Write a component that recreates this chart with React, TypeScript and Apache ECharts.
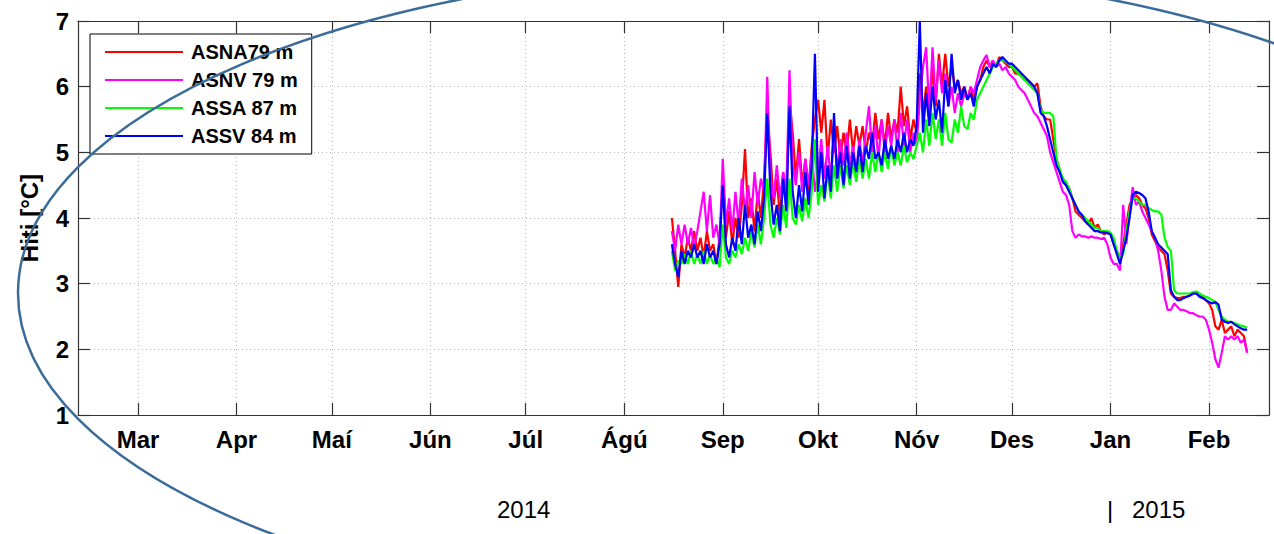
import React, { useEffect, useRef } from "react";
import * as echarts from "echarts";

// ---- Data (daily samples starting 16 Aug 2014) ----
const START = { y: 2014, m: 7, d: 16 };

const ASNA79 = [
  4.0, 3.5, 2.95, 3.6, 3.4, 3.7, 3.5, 3.8, 3.5, 3.7,
  3.4, 3.8, 3.5, 3.6, 3.3, 3.7, 4.5, 3.7, 4.1, 3.6,
  4.0, 3.7, 4.2, 5.05, 4.0, 4.3, 3.8, 4.4, 4.0, 4.6,
  5.6, 5.0, 4.2, 4.6, 4.0, 4.7, 4.3, 5.8, 5.3, 4.6,
  5.2, 4.5, 4.9, 4.4, 5.1, 5.5, 5.8, 5.3, 5.8, 4.9,
  5.5, 5.0, 5.4, 4.9, 5.3, 5.0, 5.5, 5.0, 5.4, 5.1,
  5.4, 5.0, 5.3, 5.1, 5.6, 5.2, 5.5, 5.1, 5.6, 5.2,
  5.5, 5.3, 6.0, 5.4, 5.7, 5.2, 5.5, 5.3, 6.2, 5.6,
  6.0, 5.5, 6.3, 5.7, 6.5, 6.0, 6.5, 6.0, 6.3, 6.0,
  6.1, 5.9, 6.0, 5.8, 6.0, 5.8, 6.0, 6.1, 6.3, 6.4,
  6.3, 6.4, 6.3, 6.45, 6.4, 6.35, 6.3, 6.3, 6.2, 6.2,
  6.15, 6.1, 6.1, 6.05, 6.0, 6.05, 5.7, 5.55, 5.5, 5.5,
  5.2, 4.9, 4.7, 4.6, 4.5, 4.45, 4.3, 4.1, 4.05, 4.0,
  3.95, 3.9, 4.0, 3.85, 3.9, 3.8, 3.75, 3.78, 3.75, 3.6,
  3.5, 3.4, 3.6, 3.9, 4.2, 4.3, 4.35, 4.3, 4.2, 4.15,
  4.0, 3.75, 3.65, 3.55, 3.5, 3.45, 3.2, 2.85, 2.8, 2.78,
  2.78, 2.8, 2.8, 2.82, 2.85, 2.85, 2.82, 2.8, 2.75, 2.7,
  2.6, 2.35, 2.3, 2.45, 2.25, 2.3, 2.35, 2.2, 2.3, 2.25,
  2.2, 1.95,
];

const ASNV79 = [
  3.8, 3.5, 3.9, 3.6, 3.9, 3.6, 3.85, 3.55, 3.8, 4.1,
  4.4, 3.8, 4.35, 3.7, 3.9, 3.6, 4.9, 3.9, 4.3, 3.8,
  4.4, 3.9, 4.6, 4.1, 4.5, 4.0, 4.7, 4.2, 4.6, 4.4,
  6.15, 4.6, 4.3, 4.8, 4.3, 4.7, 4.4, 6.25, 4.8, 4.5,
  5.0, 4.4, 4.9, 4.5, 5.0, 4.4, 4.7, 5.2, 4.6, 5.1,
  4.6, 5.3, 4.7, 5.2, 4.8, 5.3, 4.8, 5.1, 4.7, 5.2,
  4.8, 5.3, 5.7, 5.0, 5.4, 4.9, 5.5, 5.0, 5.4, 5.1,
  5.5, 5.0, 5.6, 5.1, 5.5, 5.0, 5.3, 5.1, 5.8, 6.3,
  6.6, 5.6, 6.6, 5.8, 6.4, 5.9, 6.2, 5.7, 6.0, 5.6,
  5.9, 5.7, 5.9, 5.8, 6.0, 5.9, 6.1, 6.3, 6.4, 6.48,
  6.3, 6.4, 6.3, 6.35, 6.25, 6.3, 6.2, 6.15, 6.1, 6.0,
  5.95, 5.9, 5.8, 5.7, 5.6, 5.55, 5.45, 5.35, 5.25, 5.0,
  4.85, 4.7, 4.55, 4.4, 4.35, 4.2, 3.8, 3.7, 3.75, 3.72,
  3.72, 3.7, 3.72, 3.7, 3.7, 3.68, 3.7, 3.6, 3.4, 3.3,
  3.3, 3.2, 4.2, 3.6, 4.1, 4.47, 4.2, 4.25, 4.1, 4.0,
  3.9, 3.8, 3.7, 3.5, 3.2, 2.8, 2.6, 2.6, 2.7, 2.65,
  2.6, 2.6, 2.58, 2.55, 2.55, 2.52, 2.5, 2.5, 2.45, 2.3,
  2.1, 1.85, 1.72, 1.95, 2.2, 2.15, 2.2, 2.15, 2.2, 2.1,
  2.15, 1.95,
];

const ASSA87 = [
  3.5, 3.2, 3.35, 3.3, 3.45, 3.3, 3.5, 3.3, 3.45, 3.3,
  3.5, 3.3, 3.45, 3.3, 3.4, 3.25, 3.9, 3.4, 3.3, 3.5,
  3.4, 3.6, 3.45, 3.7, 3.5, 3.8, 3.55, 3.9, 3.6, 4.0,
  4.6, 3.9, 3.7, 4.0, 3.75, 4.2, 3.85, 4.6, 4.0, 3.9,
  4.2, 3.95, 4.3, 4.0, 4.4, 5.2, 4.2, 4.5, 4.25, 4.7,
  4.3, 4.8, 4.4, 4.8, 4.45, 4.8, 4.5, 4.85, 4.55, 4.9,
  4.6, 4.9, 4.6, 5.0, 4.7, 5.0, 4.7, 5.0, 4.75, 5.1,
  4.8, 5.0, 4.8, 5.1, 4.85, 5.0, 4.9, 5.1, 5.3, 5.0,
  5.5, 5.1, 5.6, 5.2, 5.5, 5.1, 5.6, 5.2, 5.15, 5.5,
  5.3, 5.7, 5.4, 5.35, 5.6, 5.5, 5.8, 5.9, 6.0, 6.1,
  6.2, 6.3, 6.35, 6.4, 6.4, 6.38, 6.35, 6.3, 6.25, 6.2,
  6.15, 6.1, 6.05, 6.0, 5.95, 5.9, 5.65, 5.6, 5.6, 5.6,
  5.55, 4.9, 4.75, 4.6, 4.55, 4.45, 4.3, 4.2, 4.1, 4.05,
  4.0, 3.95, 3.9, 3.85, 3.85, 3.8, 3.8, 3.8, 3.78, 3.7,
  3.5, 3.4, 3.45, 3.8, 4.1, 4.3, 4.3, 4.25, 4.2, 4.2,
  4.15, 4.12, 4.1, 4.1, 4.05, 3.7, 3.56, 3.5, 2.9, 2.85,
  2.85, 2.85, 2.85, 2.85, 2.87, 2.88, 2.85, 2.82, 2.8, 2.78,
  2.75, 2.72, 2.6, 2.5, 2.45, 2.42, 2.42, 2.4, 2.38, 2.36,
  2.35, 2.33,
];

const ASSV84 = [
  3.6, 3.3, 3.1, 3.5, 3.3, 3.5, 3.4, 3.6, 3.4, 3.5,
  3.3, 3.6, 3.4, 3.5, 3.3, 3.6, 4.5, 3.6, 3.4, 3.7,
  3.5, 4.0, 3.6, 4.2, 3.7, 3.9, 3.6, 4.1, 3.8, 4.3,
  5.6, 4.4, 3.9, 4.2, 3.8, 4.6, 4.1, 5.7, 4.4, 4.0,
  4.5, 4.1, 4.7, 4.2, 4.8, 6.5, 4.4, 5.0, 4.3, 4.8,
  4.4, 5.6, 4.6, 5.0, 4.5, 5.1, 4.6, 5.0, 4.7, 5.1,
  4.7, 5.1, 4.9, 5.3, 4.9, 5.0, 4.8, 5.2, 4.9, 5.1,
  4.9, 5.2, 5.0, 5.3, 5.0, 5.2, 5.1, 5.4, 7.0, 5.3,
  5.9, 5.4, 6.0, 5.5, 5.8, 5.3, 6.1, 5.7, 6.5, 5.9,
  6.1, 5.8, 6.0, 5.8, 5.9, 5.7, 6.0, 6.1, 6.2, 6.3,
  6.2, 6.35, 6.3, 6.4, 6.45, 6.4, 6.35, 6.35, 6.3, 6.25,
  6.2, 6.15, 6.1, 6.05, 6.0, 5.9, 5.6, 5.55, 5.4, 5.2,
  5.0, 4.8, 4.7, 4.55, 4.5, 4.4, 4.3, 4.2, 4.1, 4.05,
  3.95, 3.9, 3.85, 3.8, 3.8, 3.78, 3.78, 3.77, 3.75, 3.6,
  3.45, 3.3, 3.5, 3.7, 4.0, 4.35, 4.4, 4.38, 4.35, 4.3,
  4.1, 3.8, 3.7, 3.6, 3.55, 3.5, 3.45, 2.9, 2.8, 2.75,
  2.75, 2.78, 2.8, 2.82, 2.85, 2.85, 2.8, 2.78, 2.75, 2.72,
  2.7, 2.72, 2.68, 2.45, 2.42, 2.4, 2.42, 2.38, 2.35, 2.32,
  2.3, 2.3,
];

const SERIES_NAMES = ["ASNA79 m", "ASNV 79 m", "ASSA 87 m", "ASSV 84 m"];
const SERIES_COLORS = ["#ff0000", "#ff00ff", "#00ff00", "#0000ff"];

// Month ticks (year, monthIndex) and labels
const MONTH_TICKS: [number, number][] = [
  [2014, 2], [2014, 3], [2014, 4], [2014, 5], [2014, 6], [2014, 7],
  [2014, 8], [2014, 9], [2014, 10], [2014, 11], [2015, 0], [2015, 1],
];
const MONTH_LABELS = ["Mar", "Apr", "Maí", "Jún", "Júl", "Ágú", "Sep", "Okt", "Nóv", "Des", "Jan", "Feb"];

const FONT = "'Liberation Sans', Arial, Helvetica, sans-serif";

export default function App() {
  const ref = useRef<HTMLDivElement>(null);

  useEffect(() => {
    if (!ref.current) return;
    const chart = echarts.init(ref.current, undefined, { renderer: "svg" });

    const DAY = 86400000;
    const t0 = new Date(START.y, START.m, START.d).getTime();
    const toPairs = (vals: number[]) => vals.map((v, i) => [t0 + i * DAY, v]);
    const tickTimes = MONTH_TICKS.map(([y, m]) => new Date(y, m, 1).getTime());
    const labelFor = (v: number) => {
      const idx = tickTimes.indexOf(v);
      return idx >= 0 ? MONTH_LABELS[idx] : "";
    };

    const xMin = new Date(2014, 1, 10, 3).getTime();
    const xMax = new Date(2015, 1, 19, 21).getTime();

    const allVals = [ASNA79, ASNV79, ASSA87, ASSV84];

    const axisLineStyle = { color: "#333", width: 1.2 };
    const gridLine = { show: true, lineStyle: { color: "#b8b8b8", type: [1, 3] as any, width: 1 } };

    chart.setOption({
      animation: false,
      backgroundColor: "#fff",
      grid: { left: 78, right: 5, top: 21, bottom: 119, containLabel: false },
      legend: {
        orient: "vertical",
        left: 90,
        top: 34,
        backgroundColor: "#fff",
        borderColor: "#000",
        borderWidth: 1,
        padding: [8, 14, 8, 15],
        itemGap: 8,
        itemWidth: 78,
        itemHeight: 2,
        icon: "rect",
        textStyle: { fontFamily: FONT, fontWeight: "bold", fontSize: 20, color: "#000", lineHeight: 20, padding: [0, 0, 0, 3] },
        data: SERIES_NAMES.map((n) => ({ name: n, icon: "rect" })),
      },
      xAxis: [
        {
          type: "value",
          min: xMin,
          max: xMax,
          axisLine: { show: true, lineStyle: axisLineStyle },
          axisTick: { show: true, inside: true, length: 12, lineStyle: axisLineStyle, customValues: tickTimes },
          axisLabel: {
            show: true,
            customValues: tickTimes,
            margin: 12,
            fontFamily: FONT,
            fontWeight: "bold",
            fontSize: 24,
            color: "#000",
            formatter: (v: number) => labelFor(v),
          },
          splitLine: gridLine,
        },
        {
          type: "value",
          position: "top",
          min: xMin,
          max: xMax,
          axisLine: { show: true, lineStyle: axisLineStyle },
          axisTick: { show: true, inside: true, length: 12, lineStyle: axisLineStyle, customValues: tickTimes },
          axisLabel: { show: false },
          splitLine: { show: false },
        },
      ],
      yAxis: [
        {
          type: "value",
          min: 1,
          max: 7,
          interval: 1,
          name: "Hiti [°C]",
          nameLocation: "middle",
          nameGap: 37,
          nameTextStyle: { fontFamily: FONT, fontWeight: "bold", fontSize: 24, color: "#000" },
          axisLine: { show: true, lineStyle: axisLineStyle },
          axisTick: { show: true, inside: true, length: 12, lineStyle: axisLineStyle },
          axisLabel: {
            margin: 9,
            fontFamily: FONT,
            fontWeight: "bold",
            fontSize: 24,
            color: "#000",
          },
          splitLine: gridLine,
        },
        {
          type: "value",
          position: "right",
          min: 1,
          max: 7,
          interval: 1,
          axisLine: { show: true, lineStyle: axisLineStyle },
          axisTick: { show: true, inside: true, length: 12, lineStyle: axisLineStyle },
          axisLabel: { show: false },
          splitLine: { show: false },
        },
      ],
      series: allVals.map((vals, i) => ({
        name: SERIES_NAMES[i],
        type: "line",
        xAxisIndex: 0,
        yAxisIndex: 0,
        data: toPairs(vals),
        showSymbol: false,
        symbol: "none",
        color: SERIES_COLORS[i],
        lineStyle: { color: SERIES_COLORS[i], width: 2.2 },
        z: 2 + i,
      })),
      graphic: [
        {
          type: "text",
          left: 497,
          top: 497,
          style: { text: "2014", fontFamily: FONT, fontSize: 24, fill: "#000" },
        },
        {
          type: "text",
          left: 1107,
          top: 497,
          style: { text: "|", fontFamily: FONT, fontSize: 24, fill: "#000" },
        },
        {
          type: "text",
          left: 1132,
          top: 497,
          style: { text: "2015", fontFamily: FONT, fontSize: 24, fill: "#000" },
        },
        {
          type: "ellipse",
          z: 100,
          silent: true,
          shape: { cx: 785, cy: 293, rx: 767, ry: 324 },
          style: { fill: "none", stroke: "#3b6c99", lineWidth: 2.5 },
        },
      ],
    });

    return () => chart.dispose();
  }, []);

  return (
    <div
      ref={ref}
      style={{ position: "fixed", left: 0, top: 0, width: 1274, height: 534, background: "#fff" }}
    />
  );
}
